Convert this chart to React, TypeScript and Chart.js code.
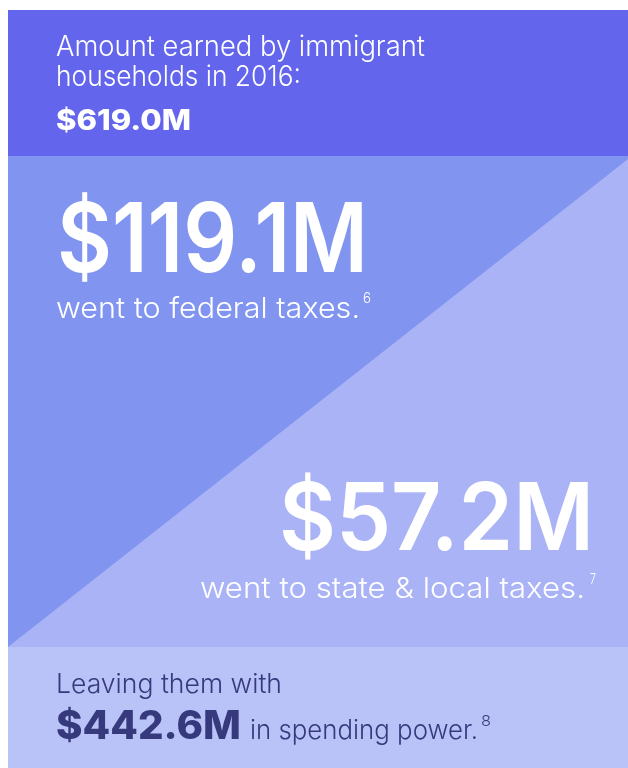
import React, { useEffect, useRef } from "react";
import { Chart, registerables } from "chart.js";

Chart.register(...registerables);

const CATEGORIES = ["Earned", "Federal taxes", "State & local taxes", "Spending power"];
const VALUES = [619.0, 119.1, 57.2, 442.6];
const FOOTNOTES = ["", "6", "7", "8"];
const YEAR = 2016;

const fmt = (v: number) => `$${v.toFixed(1)}M`;

const W = 628;
const H = 768;

function fitText(
  ctx: CanvasRenderingContext2D,
  text: string,
  x: number,
  y: number,
  font: string,
  color: string,
  targetWidth: number,
  align: "left" | "right" = "left"
) {
  ctx.save();
  ctx.font = font;
  ctx.fillStyle = color;
  ctx.textBaseline = "alphabetic";
  ctx.textAlign = "left";
  const w = ctx.measureText(text).width;
  const sx = targetWidth / w;
  const left = align === "left" ? x : x - targetWidth;
  ctx.translate(left, y);
  ctx.scale(sx, 1);
  ctx.fillText(text, 0, 0);
  ctx.restore();
}

const BODY_TOP = "300 28px Inter";
const BODY_MID = "300 29px Inter";
const BODY_BOT = "300 27px Inter";

const infographic = {
  id: "infographic",
  beforeDraw(chart: any) {
    const ctx: CanvasRenderingContext2D = chart.ctx;
    const L = 8, T = 10, R = W, B = H;
    const band1 = 156, band2 = 647;
    ctx.save();
    ctx.fillStyle = "#ffffff";
    ctx.fillRect(0, 0, W, H);
    ctx.fillStyle = "#6366EC";
    ctx.fillRect(L, T, R - L, band1 - T);
    ctx.fillStyle = "#A9B3F5";
    ctx.fillRect(L, band1, R - L, band2 - band1);
    ctx.fillStyle = "#8195F0";
    ctx.beginPath();
    ctx.moveTo(L, band1);
    ctx.lineTo(R, band1);
    ctx.lineTo(R, 159);
    ctx.lineTo(L, band2);
    ctx.closePath();
    ctx.fill();
    ctx.fillStyle = "#B9C3F8";
    ctx.fillRect(L, band2, R - L, B - band2);
    ctx.restore();
  },
  afterDraw(chart: any) {
    const ctx: CanvasRenderingContext2D = chart.ctx;
    const white = "#ffffff";
    const dark = "#363A7C";
    fitText(ctx, "Amount earned by immigrant", 56, 56, BODY_TOP, white, 369);
    fitText(ctx, `households in ${YEAR}:`, 56, 86, BODY_TOP, white, 245);
    fitText(ctx, fmt(VALUES[0]), 56, 130, "800 28px Inter", white, 135);

    fitText(ctx, fmt(VALUES[1]), 57, 272, "600 96px Inter", white, 311);
    fitText(ctx, "went to federal taxes.", 56, 318, BODY_MID, white, 304);
    fitText(ctx, FOOTNOTES[1], 363, 303, "300 14px Inter", white, 8);

    fitText(ctx, fmt(VALUES[2]), 594, 550, "600 94px Inter", white, 315, "right");
    fitText(ctx, "went to state & local taxes.", 585, 598, BODY_MID, white, 385, "right");
    fitText(ctx, FOOTNOTES[2], 596, 584, "300 14px Inter", white, 6, "right");

    fitText(ctx, "Leaving them with", 56, 693, BODY_BOT, dark, 226);
    fitText(ctx, fmt(VALUES[3]), 56, 739, "800 39px Inter", dark, 185);
    fitText(ctx, "in spending power.", 250, 739, BODY_BOT, dark, 228);
    fitText(ctx, FOOTNOTES[3], 481, 726, "300 15px Inter", dark, 10);
  },
};

export default function App() {
  const ref = useRef<HTMLCanvasElement>(null);
  useEffect(() => {
    if (!ref.current) return;
    const chart = new Chart(ref.current, {
      type: "bar",
      data: {
        labels: CATEGORIES,
        datasets: [
          {
            data: VALUES,
            backgroundColor: "rgba(0,0,0,0)",
            borderWidth: 0,
          },
        ],
      },
      options: {
        animation: false,
        responsive: false,
        devicePixelRatio: 1,
        layout: { padding: 0 },
        events: [],
        plugins: { legend: { display: false }, tooltip: { enabled: false } },
        scales: { x: { display: false }, y: { display: false } },
      },
      plugins: [infographic],
    });
    return () => chart.destroy();
  }, []);
  return (
    <div style={{ position: "fixed", left: 0, top: 0, width: W, height: H, overflow: "hidden" }}>
      <canvas ref={ref} width={W} height={H} style={{ display: "block", width: W, height: H }} />
    </div>
  );
}
